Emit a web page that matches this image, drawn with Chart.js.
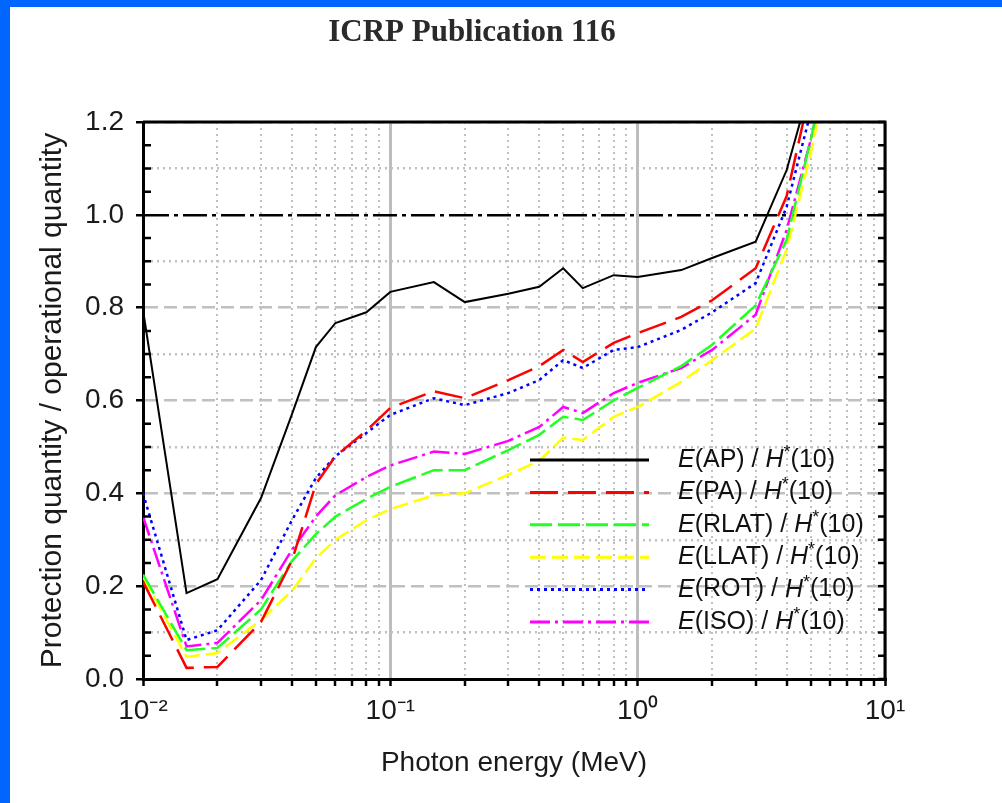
<!DOCTYPE html>
<html>
<head>
<meta charset="utf-8">
<script src="https://cdn.jsdelivr.net/npm/chart.js@4.4.1/dist/chart.umd.min.js"></script>
<style>
  html, body { margin: 0; padding: 0; background: #fff; }
  #wrap { position: relative; width: 1002px; height: 803px; overflow: hidden; background: #fff; }
  #wrap canvas { position: absolute; left: 0; top: 0; }
  .edge { position: absolute; background: #0066ff; }
</style>
</head>
<body>
<div id="wrap">
  <canvas id="ratioChart" width="1002" height="803"></canvas>
  <div class="edge" style="left:0;top:0;width:1002px;height:7px"></div>
  <div class="edge" style="left:0;top:0;width:10px;height:803px"></div>
</div>
<script>
// photon energies (MeV)
const energies = [0.01, 0.015, 0.02, 0.03, 0.04, 0.05, 0.06, 0.08, 0.1, 0.15, 0.2, 0.3, 0.4, 0.5, 0.6, 0.8, 1, 1.5, 2, 3, 4, 5, 6];

// ratio protection quantity / H*(10)
const apRatio   = [0.795, 0.185, 0.215, 0.39, 0.57, 0.715, 0.767, 0.79, 0.834, 0.855, 0.812, 0.83, 0.845, 0.885, 0.842, 0.87, 0.866, 0.881, 0.907, 0.942, 1.096, 1.28, 1.45];
const paRatio   = [0.21, 0.024, 0.026, 0.123, 0.255, 0.42, 0.48, 0.535, 0.584, 0.62, 0.605, 0.644, 0.674, 0.709, 0.683, 0.724, 0.745, 0.78, 0.816, 0.885, 1.04, 1.27, 1.45];
const rlatRatio = [0.225, 0.062, 0.067, 0.15, 0.254, 0.312, 0.35, 0.388, 0.414, 0.45, 0.45, 0.493, 0.526, 0.565, 0.558, 0.60, 0.627, 0.674, 0.72, 0.805, 0.946, 1.16, 1.35];
const llatRatio = [0.22, 0.048, 0.056, 0.127, 0.19, 0.26, 0.30, 0.342, 0.366, 0.396, 0.40, 0.44, 0.47, 0.52, 0.515, 0.565, 0.586, 0.64, 0.687, 0.755, 0.925, 1.13, 1.33];
const rotRatio  = [0.40, 0.084, 0.105, 0.213, 0.342, 0.433, 0.48, 0.53, 0.569, 0.605, 0.59, 0.616, 0.644, 0.687, 0.67, 0.709, 0.715, 0.752, 0.79, 0.853, 1.017, 1.22, 1.4];
const isoRatio  = [0.35, 0.07, 0.078, 0.17, 0.278, 0.35, 0.396, 0.435, 0.46, 0.49, 0.485, 0.513, 0.543, 0.586, 0.573, 0.616, 0.638, 0.67, 0.709, 0.785, 0.967, 1.16, 1.35];

const seriesNames = ['AP', 'PA', 'RLAT', 'LLAT', 'ROT', 'ISO'];

const yTickLabels = ['0.0', '0.2', '0.4', '0.6', '0.8', '1.0', '1.2'];
const xDecades = [0.01, 0.1, 1, 10];
const xDecadeLabels = ['10\u207B\u00B2', '10\u207B\u00B9', '10\u2070', '10\u00B9'];

// tick positions: 1..9 per decade on x, every 0.05 on y
const xTicks = [];
xDecades.slice(0, 3).forEach(d => {
  for (let m = 1; m <= 9; m++) xTicks.push({ value: +(m * d).toPrecision(3), major: m === 1 });
});
xTicks.push({ value: 10, major: true });
const yTicks = [];
for (let i = 0; i <= 24; i++) yTicks.push({ value: +(i * 0.05).toFixed(2), major: i % 4 === 0 });

const FONT = '"Liberation Sans", Arial, sans-serif';
const GRID = '#c0c0c0';

const toPoints = arr => energies.map((e, i) => ({ x: e, y: arr[i] }));

function series(name, values, color, dash, width) {
  return {
    label: name,
    data: toPoints(values),
    borderColor: color,
    borderDash: dash,
    borderWidth: width,
    pointRadius: 0,
    tension: 0,
    fill: false,
    clip: 0
  };
}

const titlePlugin = {
  id: 'pageTitle',
  afterDraw(chart) {
    const ctx = chart.ctx;
    ctx.save();
    ctx.font = 'bold 31px "Liberation Serif", "Times New Roman", serif';
    ctx.fillStyle = '#2a2a2a';
    ctx.textAlign = 'center';
    ctx.textBaseline = 'middle';
    ctx.fillText('ICRP Publication 116', 472, 33);
    ctx.restore();
  }
};

const framePlugin = {
  id: 'frame',
  afterDatasetsDraw(chart) {
    const { ctx, chartArea: a, scales } = chart;
    ctx.save();
    ctx.strokeStyle = '#000';
    ctx.lineWidth = 3;
    ctx.beginPath();
    ctx.moveTo(a.left, a.top); ctx.lineTo(a.right, a.top); ctx.lineTo(a.right, a.bottom);
    ctx.stroke();
    // inward minor ticks
    ctx.lineWidth = 2.5;
    yTicks.forEach(t => {
      const y = scales.y.getPixelForValue(t.value);
      ctx.beginPath();
      if (!t.major) { ctx.moveTo(a.left, y); ctx.lineTo(a.left + 8, y); }
      ctx.moveTo(a.right, y); ctx.lineTo(a.right - 7, y);
      ctx.stroke();
    });
    ctx.restore();
  }
};

const legendPlugin = {
  id: 'insideLegend',
  afterDatasetsDraw(chart) {
    const ctx = chart.ctx;
    chart.data.datasets.forEach((ds, i) => {
      const y = 460 + i * 32.4;
      ctx.save();
      ctx.strokeStyle = ds.borderColor;
      ctx.lineWidth = 3;
      ctx.setLineDash(ds.borderDash || []);
      ctx.beginPath();
      ctx.moveTo(530, y);
      ctx.lineTo(649, y);
      ctx.stroke();
      ctx.setLineDash([]);
      ctx.fillStyle = '#111';
      ctx.textBaseline = 'middle';
      const parts = [
        { t: 'E', f: 'italic 25px ' + FONT },
        { t: '(' + seriesNames[i] + ') / ', f: '25px ' + FONT },
        { t: 'H', f: 'italic 25px ' + FONT },
        { t: '*', f: '18px ' + FONT, dy: -7 },
        { t: '(10)', f: '25px ' + FONT }
      ];
      let x = 678;
      parts.forEach(p => {
        ctx.font = p.f;
        ctx.fillText(p.t, x, y + (p.dy || 0));
        x += ctx.measureText(p.t).width;
      });
      ctx.restore();
    });
  }
};

new Chart(document.getElementById('ratioChart'), {
  type: 'line',
  data: {
    datasets: [
      series('AP', apRatio, '#000000', [], 2),
      series('PA', paRatio, '#ff0000', [28, 10], 2.5),
      series('RLAT', rlatRatio, '#22ff22', [22, 6], 2.5),
      series('LLAT', llatRatio, '#ffff00', [16, 6], 2.5),
      series('ROT', rotRatio, '#0000ff', [3, 4], 2.5),
      series('ISO', isoRatio, '#ff00ff', [20, 5, 3, 5], 2.5)
    ]
  },
  options: {
    responsive: false,
    animation: false,
    devicePixelRatio: 1,
    layout: { padding: { left: 0, right: 117, top: 122, bottom: 0 } },
    scales: {
      x: {
        type: 'logarithmic',
        min: 0.01,
        max: 10,
        afterBuildTicks: s => { s.ticks = xTicks.map(t => ({ value: t.value, major: t.major })); },
        afterFit: s => { s.height = 124; },
        ticks: {
          autoSkip: false,
          maxRotation: 0,
          padding: 8,
          color: '#1a1a1a',
          font: { family: FONT, size: 28 },
          callback: (v, i) => {
            const k = xDecades.indexOf(xTicks[i].value);
            return k >= 0 ? xDecadeLabels[k] : '';
          }
        },
        grid: {
          color: c => (c.tick && c.tick.major ? '#bdbdbd' : GRID),
          lineWidth: c => (c.tick && c.tick.major ? 3 : 2),
          tickColor: '#000',
          tickLength: 7,
          tickWidth: 2.5
        },
        border: {
          color: '#000',
          width: 3,
          dash: c => (c.tick && !c.tick.major ? [2, 4] : [])
        },
        title: {
          display: true,
          text: 'Photon energy (MeV)',
          color: '#1a1a1a',
          font: { family: FONT, size: 28 },
          padding: { top: 0, bottom: 23 }
        }
      },
      y: {
        min: 0,
        max: 1.2,
        afterBuildTicks: s => { s.ticks = yTicks.map(t => ({ value: t.value, major: t.major })); },
        afterFit: s => { s.width = 143; },
        ticks: {
          padding: 12,
          color: '#1a1a1a',
          font: { family: FONT, size: 28 },
          callback: (v, i) => (i % 4 === 0 ? yTickLabels[i / 4] : '')
        },
        grid: {
          color: c => {
            if (!c.tick) return GRID;
            if (Math.abs(c.tick.value - 1) < 1e-6) return '#000';
            return GRID;
          },
          lineWidth: 2.5,
          tickColor: c => (c.tick && c.tick.major ? '#000' : 'rgba(0,0,0,0)'),
          tickLength: 7,
          tickWidth: 2.5
        },
        border: {
          color: '#000',
          width: 3,
          dash: c => {
            if (!c.tick) return [];
            if (Math.abs(c.tick.value - 1) < 1e-6) return [24, 5, 4, 5];
            return c.tick.major ? [13, 6] : [2, 4];
          }
        },
        title: {
          display: true,
          text: 'Protection quantity / operational quantity',
          color: '#1a1a1a',
          font: { family: FONT, size: 30 },
          padding: { top: 35, bottom: 0 }
        }
      }
    },
    plugins: {
      legend: { display: false },
      tooltip: { enabled: false },
      title: { display: false }
    }
  },
  plugins: [titlePlugin, framePlugin, legendPlugin]
});
</script>
</body>
</html>
